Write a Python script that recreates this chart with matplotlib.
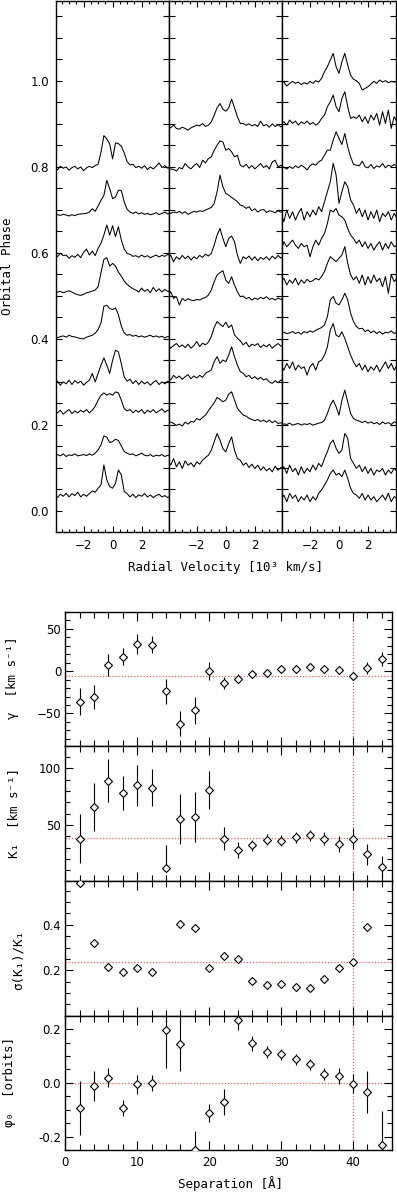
import numpy as np
import matplotlib
matplotlib.use("Agg")
import matplotlib.pyplot as plt
from matplotlib.ticker import MultipleLocator, FixedLocator, FormatStrFormatter

plt.rcParams['font.family'] = ['DejaVu Sans']

# ---------------- data: trailed line profiles ----------------
velocity = [-4.0, -3.8, -3.6, -3.4, -3.2, -3.0, -2.8, -2.6, -2.4, -2.2, -2.0,
            -1.8, -1.6, -1.4, -1.2, -1.0, -0.8, -0.6, -0.4, -0.2, 0.0,
            0.2, 0.4, 0.6, 0.8, 1.0, 1.2, 1.4, 1.6, 1.8, 2.0,
            2.2, 2.4, 2.6, 2.8, 3.0, 3.2, 3.4, 3.6, 3.8, 4.0]   # 10^3 km/s

left_phases = [0.795, 0.687, 0.587, 0.507, 0.402, 0.292, 0.226, 0.126, 0.029]
left_flux = [
    [5, -3, 8, 2, 6, -4, 4, 8, 0, 6, -5, 3, 8, 4, 10, 14, 50, 100, 90, 75, 30, 78, 76, 68, 48, 22, 12, 14, 4, 8, 2, 10, -2, 6, 0, 8, 18, 4, 10, 2, 5],
    [0, 2, 0, 3, 1, -2, 2, -1, 3, 4, 5, 6, 10, 20, 12, 28, 45, 60, 105, 80, 50, 55, 75, 75, 40, 18, 10, 6, 10, 4, 8, 3, 6, 2, 4, 8, 2, 6, 10, 4, 6],
    [12, 5, 15, 8, 10, 0, 8, 3, 12, 2, 18, 28, 10, 22, 8, 30, 45, 70, 100, 70, 98, 65, 95, 55, 28, 15, 12, 6, 8, 3, 10, 4, 8, 2, 6, 10, 4, 9, 6, 12, 8],
    [-5, 2, 4, 0, 3, 6, 2, -3, -6, -8, -5, 0, 2, 5, 8, 18, 60, 100, 105, 80, 88, 80, 62, 50, 35, 25, 18, 12, 8, 2, 14, 4, 10, 0, 16, 4, 12, 2, 10, 4, 6],
    [2, 0, 4, 6, 2, 8, 4, 3, 0, -2, -3, 2, 5, 8, 14, 25, 45, 95, 98, 88, 85, 90, 70, 35, 15, 8, 10, 5, 8, 3, 6, 2, 5, 8, 3, 6, 2, 5, 0, 4, 2],
    [5, 12, 0, 10, 4, 15, 2, 14, 6, 12, 0, 8, 15, 35, 10, 35, 60, 82, 60, 35, 75, 105, 100, 65, 25, 12, 18, 5, 14, 2, 12, 4, 10, 0, 8, 14, 2, 10, 4, 12, 6],
    [8, 2, 10, -2, 6, 12, 0, 8, 2, 10, 4, 12, 2, 10, 22, 40, 55, 62, 55, 60, 55, 65, 62, 40, 15, 8, 12, 2, 10, 4, 12, 0, 10, 4, 12, 2, 8, 14, 4, 10, 6],
    [0, 6, 2, 8, 0, 5, 3, 8, 2, 4, 6, 3, 8, 4, 10, 20, 35, 62, 58, 42, 45, 52, 48, 32, 15, 10, 6, 8, 2, 6, 10, 4, 2, 6, 0, 4, 2, 6, 0, 4, 2],
    [10, 2, 12, 6, 15, 4, 14, 8, 18, 4, 12, 6, 14, 22, 18, 30, 40, 100, 55, 35, 30, 45, 85, 70, 20, 14, 4, 12, 2, 10, 6, 14, 4, 10, 2, 8, 12, 4, 8, 2, 6],
]

middle_phases = [0.889, 0.792, 0.6915, 0.583, 0.490, 0.378, 0.304, 0.203, 0.102]
middle_flux = [
    [8, 2, 10, 0, -2, 4, 0, -5, 2, 6, 10, 8, 15, 6, 10, 20, 40, 62, 75, 58, 52, 62, 88, 62, 35, 15, 15, 10, 14, 8, 12, 6, 22, 8, 12, 4, 14, 6, 12, 5, 8],
    [0, 4, 2, -2, 8, 4, 20, 10, 4, 14, 20, 8, 30, 22, 35, 40, 60, 75, 88, 85, 60, 65, 55, 40, 45, 15, 10, 18, 6, 14, 4, 12, 20, 8, 14, 4, 25, 30, 10, 15, 5],
    [2, 0, 4, 2, 6, 0, 5, -3, 2, 6, 4, 8, 6, 10, 14, 18, 30, 65, 115, 80, 60, 55, 48, 42, 35, 25, 22, 15, 20, 8, 14, 4, 10, 12, 3, 8, 6, 2, 8, 4, 6],
    [5, 15, -5, 10, 2, 14, 4, 12, 0, 10, 4, 14, 8, 18, 12, 20, 45, 75, 95, 65, 40, 65, 72, 55, 15, -10, 10, 4, 12, 0, 10, -2, 8, 2, 10, 0, 12, 4, 14, 6, 10],
    [15, 25, 5, 10, -15, 5, -2, 4, 0, -2, 2, 0, 5, 8, 15, 30, 55, 75, 82, 88, 60, 50, 70, 45, 25, 10, 12, 4, 8, 0, 6, 2, 8, 4, 10, 2, 5, 0, 6, 2, 4],
    [10, 0, 8, 14, 4, 10, 2, 12, 0, 8, 20, 5, 15, 10, 18, 35, 62, 80, 72, 65, 78, 62, 70, 40, 30, 22, 10, 18, 4, 12, 8, 14, 2, 10, 4, 12, 0, 8, 14, 6, 10],
    [10, 0, 14, 6, 12, 2, 10, 16, 4, 12, 6, 14, 8, 20, 25, 30, 55, 70, 50, 60, 55, 75, 100, 70, 45, 25, 20, 10, 14, 4, 10, 2, 8, 0, 4, -6, -10, -2, -8, 0, -4],
    [8, 4, 0, -6, -2, -8, 4, -2, 6, 4, 15, 10, 18, 25, 38, 50, 62, 78, 72, 65, 70, 88, 95, 70, 45, 35, 25, 22, 15, 12, 8, 12, 6, 10, 4, 10, 2, 8, 0, 2, -4],
    [20, 5, 25, 0, 15, -5, 18, 5, 12, 0, 15, 8, 20, 28, 35, 50, 75, 100, 80, 55, 45, 70, 90, 50, 25, 20, 5, 12, -2, 8, -5, 5, -10, 0, -12, -4, -15, 2, -10, -2, -8],
]

right_phases = [0.994, 0.897, 0.796, 0.680, 0.610, 0.529, 0.409, 0.327, 0.199, 0.083, 0.021]
right_flux = [
    [2, 4, -8, 0, 6, 0, 4, -4, 2, -2, 6, 0, 8, 4, 15, 35, 50, 70, 90, 50, 30, 65, 90, 55, 25, 12, 8, 0, -20, -15, -10, -2, 6, 0, 10, 4, 8, 2, 6, 4, 5],
    [2, 10, 0, 15, 5, 12, 0, 10, 4, 12, 2, 8, 0, 6, 20, 30, 55, 70, 90, 55, 40, 80, 100, 55, 20, 25, 20, 30, 10, 25, 5, 30, 15, 35, 0, 40, 5, 45, -10, 25, 10],
    [0, 4, -2, 6, 0, 8, 2, 10, 4, -4, 8, 14, 10, 20, 25, 40, 55, 55, 85, 110, 90, 72, 105, 65, 35, 12, 10, 8, 22, 5, 2, 12, 0, 8, 4, 15, 2, 10, 6, 12, 8],
    [15, -10, 25, 0, 20, -5, 15, 30, -5, 20, 5, 25, 10, 35, 20, 50, 80, 110, 165, 130, 45, 80, 110, 95, 55, 40, 15, 30, 5, 25, -5, 20, 0, 25, -10, 15, 5, 20, -5, 15, 0],
    [-10, 20, 5, 15, 25, 10, 0, 15, 5, 10, -25, 5, 25, 10, 30, 45, 75, 115, 110, 120, 100, 95, 85, 60, 40, 30, 15, 25, 5, 20, 0, 15, -5, 10, 20, -5, 15, 0, 20, 5, 10],
    [5, 15, -5, 10, 0, 15, -5, 10, 0, 12, 4, 8, 15, 10, 20, 35, 60, 80, 72, 65, 75, 85, 110, 60, 25, 10, 20, 0, 25, -5, 20, 0, 25, 5, 15, -10, 20, -30, 25, 5, 15],
    [2, 8, 4, 6, 10, 4, 8, 2, 10, 6, 12, 8, 14, 18, 22, 30, 55, 105, 115, 95, 90, 105, 125, 105, 65, 40, 25, 18, 20, 10, 15, 6, 12, 4, 10, 2, 8, 6, 12, 4, 8],
    [15, 0, 20, 5, 25, 0, 15, 5, 10, -15, 10, 20, 0, 25, 30, 45, 70, 120, 140, 105, 100, 115, 95, 70, 45, 25, 10, 20, 0, 15, -5, 10, 0, 15, -5, 10, 25, 5, 20, 0, 15],
    [0, 4, 2, 6, 0, 3, 5, 0, 4, 2, 5, 0, 3, 6, 8, 15, 35, 60, 75, 55, 30, 75, 105, 70, 35, 20, 15, 12, 8, 12, 6, 10, 4, 8, 2, 10, 4, 8, 2, 10, 6],
    [10, 25, 5, 30, 10, 20, 0, 25, 5, 20, 10, 30, 15, 35, 25, 50, 70, 95, 105, 80, 65, 75, 125, 110, 50, 35, 20, 30, 10, 25, 5, 20, 0, 15, 10, 20, 0, 15, 5, 20, 10],
    [5, 20, 0, 25, 10, 20, 0, 15, 5, 20, 0, 15, 5, 25, 35, 50, 65, 85, 95, 80, 85, 75, 95, 70, 40, 25, 20, 10, 25, 5, 20, 5, 15, 0, 10, 20, 5, 25, 0, 15, 10],
]

# ---------------- data: diagnostic diagram ----------------
separation = [2, 4, 6, 8, 10, 12, 14, 16, 18, 20, 22, 24, 26, 28, 30, 32, 34, 36, 38, 40, 42, 44]
gamma = [-36, -31, 7, 17, 32, 31, -24, -62, -46, 0, -14, -9, -4, -2, 2, 2, 5, 3, 1, -6, 4, 14]
gamma_err = [16, 14, 13, 10, 12, 10, 15, 15, 16, 11, 7, 5, 4, 4, 4, 4, 4, 4, 5, 5, 7, 8]
k1 = [38, 66, 89, 78, 85, 83, 12, 55, 57, 81, 38, 28, 32, 37, 36, 39, 41, 38, 33, 38, 24, 13]
k1_err_low = [22, 21, 19, 15, 18, 16, 0, 22, 22, 17, 10, 7, 5, 5, 5, 5, 5, 6, 7, 9, 9, 10]
k1_err_high = [22, 21, 19, 15, 18, 16, 20, 22, 22, 17, 10, 7, 5, 5, 5, 5, 5, 6, 7, 9, 9, 10]
sigma_ratio = [0.585, 0.318, 0.213, 0.191, 0.212, 0.191, 1.67, 0.402, 0.387, 0.210, 0.263,
               0.250, 0.154, 0.137, 0.141, 0.126, 0.124, 0.162, 0.212, 0.237, 0.391, 0.77]
phi0 = [-0.094, -0.0125, 0.019, -0.094, -0.006, 0.0, 0.197, 0.144, -0.25, -0.1125, -0.071,
        0.235, 0.147, 0.115, 0.106, 0.087, 0.069, 0.034, 0.025, -0.003, -0.035, -0.231]
phi0_err = [0.10, 0.056, 0.035, 0.03, 0.034, 0.03, 0.14, 0.10, 0.07, 0.033, 0.047,
            0.04, 0.028, 0.023, 0.02, 0.02, 0.02, 0.022, 0.03, 0.036, 0.078, 0.125]
gamma_ref = -6
k1_ref = 38.3
sigma_ref = 0.237
phi0_ref = 0.0
best_separation = 40

# ---------------- figure ----------------
W, H = 397, 1193
fig = plt.figure(figsize=(W / 100, H / 100), dpi=100)
fig.patch.set_facecolor('white')

FLUX_SCALE = 0.000775
MONO = ['DejaVu Sans Mono', 'DejaVu Sans']
TICK_FS = 8.5
LABEL_FS = 9
RED = '#ff5c5c'


def px_axes(x0, y0, x1, y1):
    return fig.add_axes([x0 / W, 1 - y1 / H, (x1 - x0) / W, (y1 - y0) / H])


# ---- top: trailed spectra ----
panels = [(left_phases, left_flux), (middle_phases, middle_flux), (right_phases, right_flux)]
x_edges = [56, 169.2, 282.4, 395.6]
for i, (phases, fluxes) in enumerate(panels):
    ax = px_axes(x_edges[i], 0.6, x_edges[i + 1], 531.7)
    for ph, fl in zip(phases, fluxes):
        ax.plot(velocity, ph + np.array(fl) * FLUX_SCALE, color='black', lw=0.75)
    ax.set_xlim(-3.9, 3.9)
    ax.set_ylim(-0.0488, 1.1865)
    ax.xaxis.set_major_locator(MultipleLocator(2))
    ax.xaxis.set_minor_locator(MultipleLocator(0.5))
    ax.yaxis.set_major_locator(MultipleLocator(0.2))
    ax.yaxis.set_minor_locator(MultipleLocator(0.05))
    ax.yaxis.set_major_formatter(FormatStrFormatter('%.1f'))
    ax.tick_params(which='both', direction='in', top=True, right=True, width=0.8,
                   labelsize=TICK_FS)
    ax.tick_params(axis='x', which='major', length=4.3, pad=5)
    ax.tick_params(axis='x', which='minor', length=2.5)
    ax.tick_params(axis='y', which='both', length=4.3, pad=5)
    if i > 0:
        ax.tick_params(axis='y', labelleft=False)
    for s in ax.spines.values():
        s.set_linewidth(1.0)

fig.text(8 / W, 1 - 266 / H, 'Orbital Phase', rotation=90, ha='center', va='center',
         family=MONO, fontsize=LABEL_FS)
fig.text(226 / W, 1 - 567 / H, 'Radial Velocity [10³ km/s]', ha='center', va='center',
         family=MONO, fontsize=LABEL_FS)

# ---- bottom: diagnostic diagram ----
rows = [(611.7, 745.7), (745.7, 880.7), (880.7, 1015.7), (1015.7, 1150.0)]
axs = [px_axes(65.3, r[0], 392.3, r[1]) for r in rows]

ebkw = dict(fmt='D', ms=3.6, mfc='white', mec='black', mew=0.8, ecolor='black',
            elinewidth=0.8, capsize=0, zorder=3)

ax = axs[0]
ax.errorbar(separation, gamma, yerr=gamma_err, **ebkw)
ax.axhline(gamma_ref, color=RED, lw=0.9, ls=(0, (1, 1.5)), zorder=1)
ax.set_ylim(-88, 70)
ax.yaxis.set_major_locator(MultipleLocator(50))
ax.yaxis.set_minor_locator(MultipleLocator(10))

ax = axs[1]
ax.errorbar(separation, k1, yerr=[k1_err_low, k1_err_high], **ebkw)
ax.axhline(k1_ref, color=RED, lw=0.9, ls=(0, (1, 1.5)), zorder=1)
ax.set_ylim(0.8, 120)
ax.yaxis.set_major_locator(FixedLocator([50, 100]))
ax.yaxis.set_minor_locator(MultipleLocator(10))

ax = axs[2]
ax.plot(separation, sigma_ratio, 'D', ms=3.6, mfc='white', mec='black', mew=0.8, zorder=3)
ax.axhline(sigma_ref, color=RED, lw=0.9, ls=(0, (1, 1.5)), zorder=1)
ax.set_ylim(0.0, 0.594)
ax.yaxis.set_major_locator(FixedLocator([0.2, 0.4]))
ax.yaxis.set_minor_locator(MultipleLocator(0.05))
ax.yaxis.set_major_formatter(FormatStrFormatter('%.1f'))

ax = axs[3]
ax.errorbar(separation, phi0, yerr=phi0_err, **ebkw)
ax.axhline(phi0_ref, color=RED, lw=0.9, ls=(0, (1, 1.5)), zorder=1)
ax.set_ylim(-0.25, 0.25)
ax.yaxis.set_major_locator(FixedLocator([-0.2, 0.0, 0.2]))
ax.yaxis.set_minor_locator(MultipleLocator(0.05))
ax.yaxis.set_major_formatter(FormatStrFormatter('%.1f'))

for j, ax in enumerate(axs):
    ax.axvline(best_separation, color=RED, lw=0.9, ls=(0, (1, 1.5)), zorder=1)
    ax.set_xlim(0, 45.45)
    ax.xaxis.set_major_locator(MultipleLocator(10))
    ax.xaxis.set_minor_locator(MultipleLocator(2))
    ax.tick_params(which='both', direction='in', top=True, right=True, width=0.8,
                   labelsize=TICK_FS)
    ax.tick_params(axis='x', which='major', length=6.5, pad=4.3)
    ax.tick_params(axis='x', which='minor', length=4.3)
    ax.tick_params(axis='y', which='major', length=5.8, pad=3)
    ax.tick_params(axis='y', which='minor', length=3.6)
    if j < 3:
        ax.tick_params(axis='x', labelbottom=False)
    for s in ax.spines.values():
        s.set_linewidth(1.0)

fig.text(13 / W, 1 - 678 / H, 'γ  [km s⁻¹]', rotation=90, ha='center', va='center',
         family=MONO, fontsize=LABEL_FS)
fig.text(14 / W, 1 - 813 / H, 'K₁  [km s⁻¹]', rotation=90, ha='center', va='center',
         family=MONO, fontsize=LABEL_FS)
fig.text(18 / W, 1 - 960 / H, 'σ(K₁)/K₁', rotation=90, ha='center', va='center',
         family=MONO, fontsize=LABEL_FS)
fig.text(10 / W, 1 - 1082 / H, 'φ₀  [orbits]', rotation=90, ha='center', va='center',
         family=MONO, fontsize=LABEL_FS)
fig.text(230 / W, 1 - 1184 / H, 'Separation [Å]', ha='center', va='center',
         family=MONO, fontsize=LABEL_FS)

fig.savefig('out.png', dpi=100, facecolor='white')
